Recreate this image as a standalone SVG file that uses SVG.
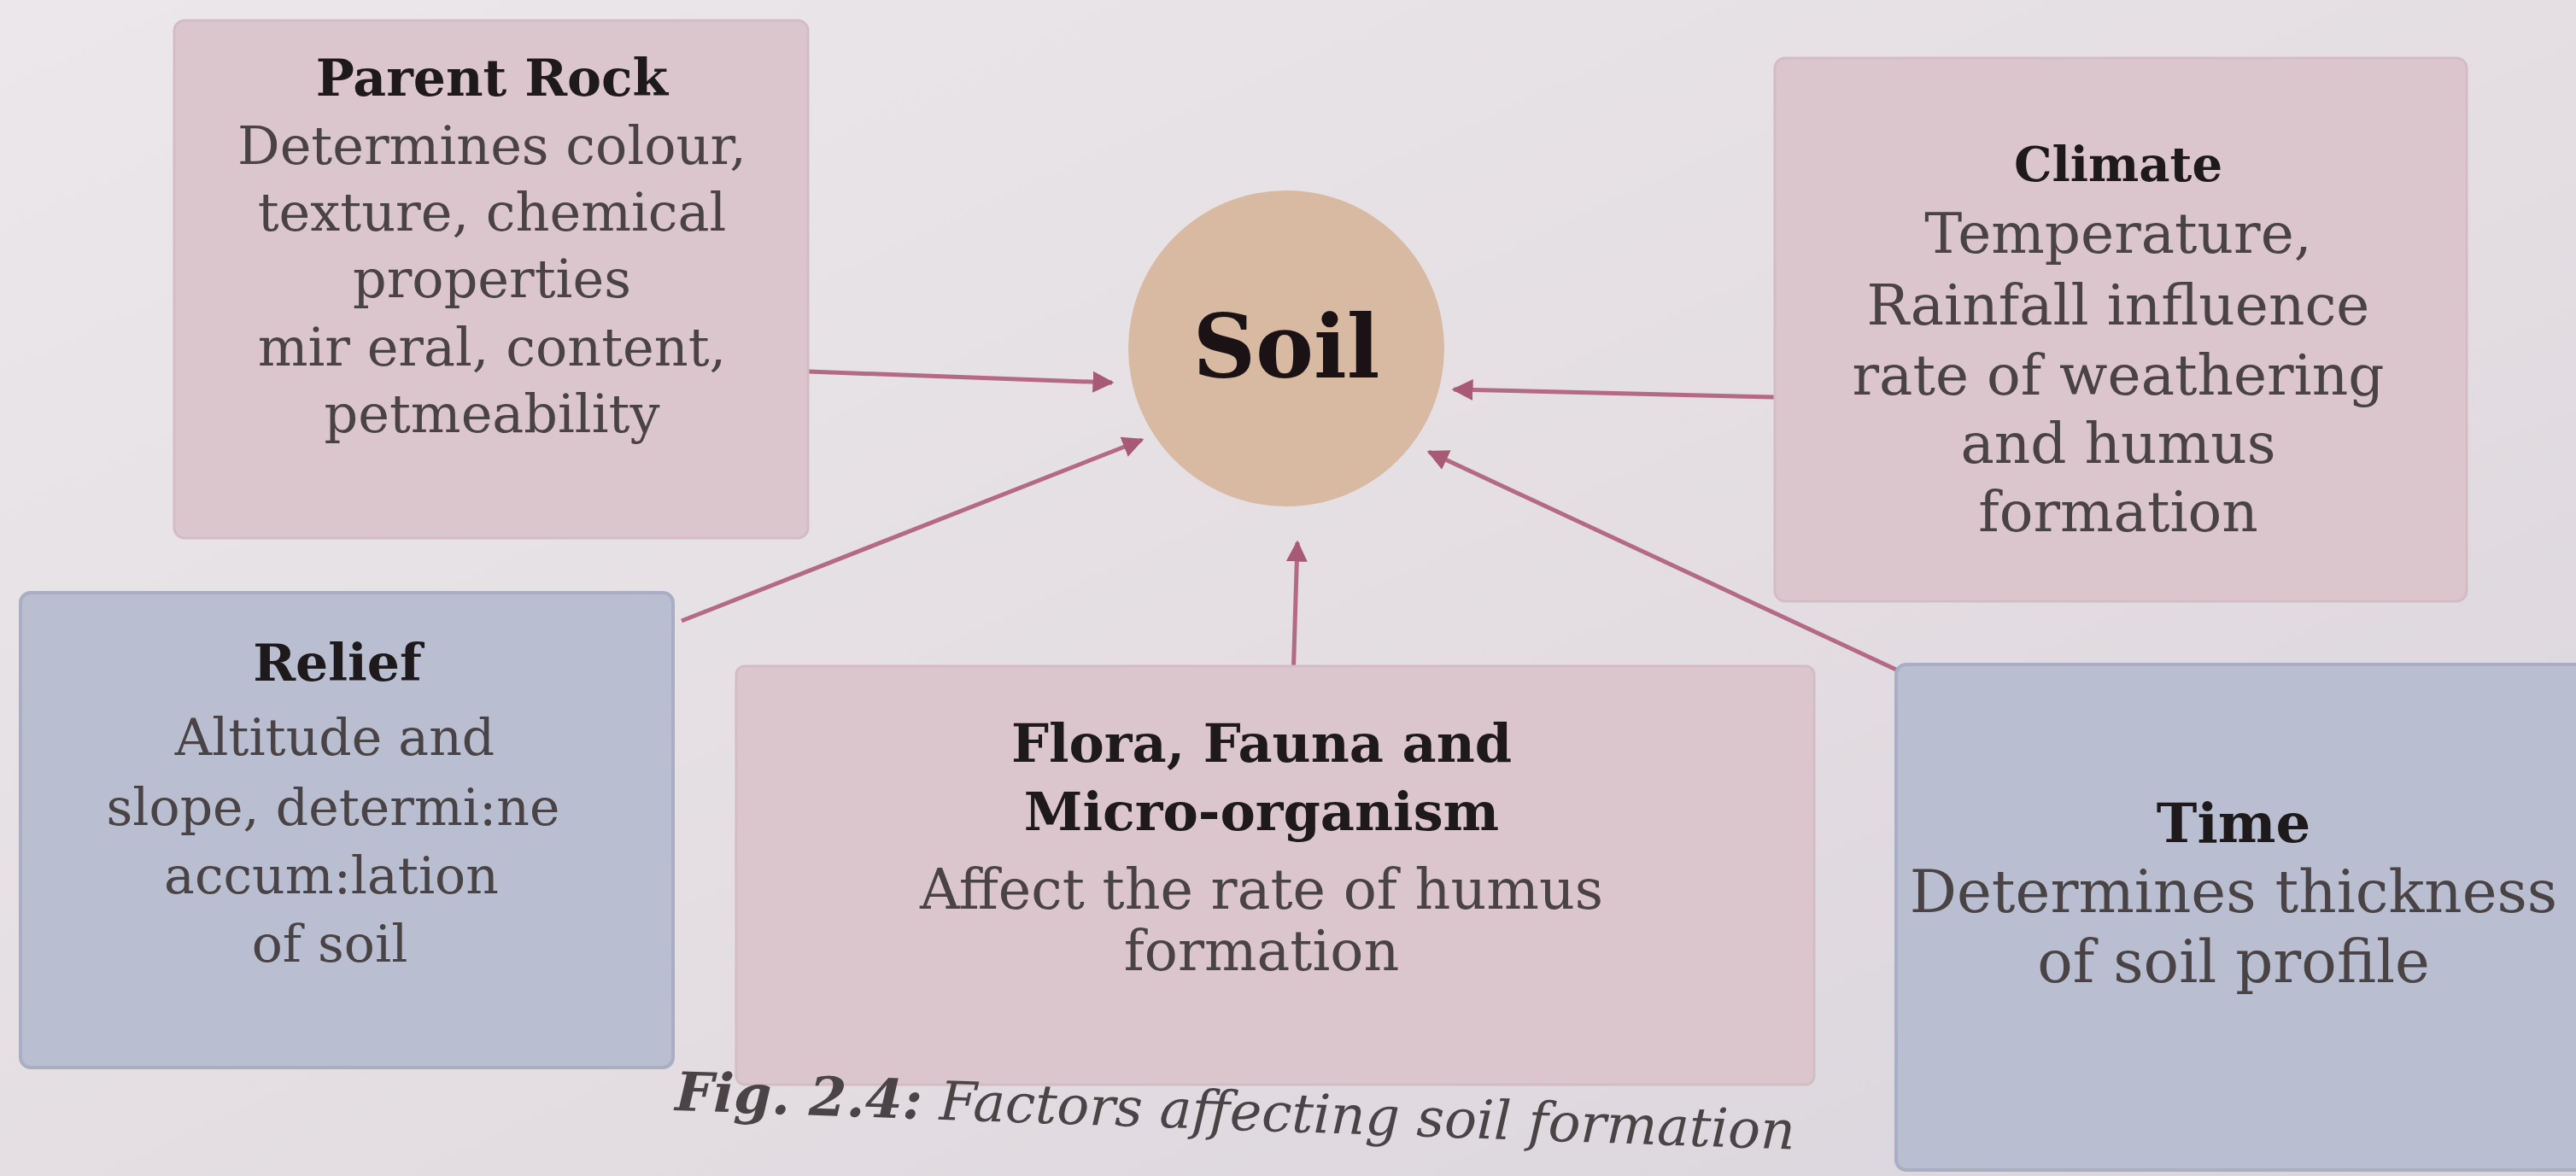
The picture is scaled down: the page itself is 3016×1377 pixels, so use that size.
<svg xmlns="http://www.w3.org/2000/svg" width="3016" height="1377" viewBox="0 0 3016 1377">
  <defs>
    <linearGradient id="bg" x1="0" y1="0" x2="1" y2="1">
      <stop offset="0" stop-color="#ebe7ea"/>
      <stop offset="0.6" stop-color="#e3dde2"/>
      <stop offset="1" stop-color="#d9d4dc"/>
    </linearGradient>
    <marker id="arr" viewBox="0 0 10 10" refX="9" refY="5" markerWidth="5" markerHeight="5" orient="auto" markerUnits="strokeWidth">
      <path d="M0,0 L10,5 L0,10 z" fill="#a85a74"/>
    </marker>
    <style>
      .pink { fill: #dcc6cd; stroke: #d4bcc4; stroke-width: 3; }
      .blue { fill: #b9bfd0; stroke: #a9aec2; stroke-width: 4; }
      .title { font-family: "DejaVu Serif", "Liberation Serif", serif; font-weight: bold; fill: #1e1a1c; text-anchor: middle; }
      .body { font-family: "DejaVu Serif", "Liberation Serif", serif; fill: #4a4346; text-anchor: middle; }
      .conn { stroke: #b46a82; stroke-width: 5; fill: none; marker-end: url(#arr); }
      .cap { font-family: "DejaVu Serif", "Liberation Serif", serif; font-style: italic; font-size: 63px; fill: #4a4446; }
    </style>
  </defs>

  <rect x="0" y="0" width="3016" height="1377" fill="url(#bg)"/>

  <g id="connectors">
    <line class="conn" x1="946" y1="435" x2="1302" y2="448"/>
    <line class="conn" x1="2077" y1="465" x2="1702" y2="456"/>
    <line class="conn" x1="798" y1="727" x2="1337" y2="515"/>
    <line class="conn" x1="1514" y1="798" x2="1519" y2="635"/>
    <line class="conn" x1="2222" y1="785" x2="1673" y2="529"/>
  </g>

  <g id="soil">
    <circle cx="1506" cy="408" r="185" fill="#d8b9a2"/>
    <text x="1506" y="442" font-family="DejaVu Serif, Liberation Serif, serif" font-weight="bold" font-size="102" fill="#1a1214" text-anchor="middle">Soil</text>
  </g>

  <g id="parent-rock">
    <rect class="pink" x="204" y="24" width="742" height="606" rx="12"/>
    <text class="title" x="576" y="112" font-size="60">Parent Rock</text>
    <text class="body" x="576" y="192" font-size="62">Determines colour,</text>
    <text class="body" x="576" y="270" font-size="62">texture, chemical</text>
    <text class="body" x="576" y="348" font-size="62">properties</text>
    <text class="body" x="576" y="428" font-size="62">mir eral, content,</text>
    <text class="body" x="576" y="506" font-size="62">petmeability</text>
  </g>

  <g id="climate">
    <rect class="pink" x="2078" y="68" width="810" height="636" rx="12"/>
    <text class="title" x="2480" y="212" font-size="56">Climate</text>
    <text class="body" x="2480" y="296" font-size="66">Temperature,</text>
    <text class="body" x="2480" y="380" font-size="66">Rainfall influence</text>
    <text class="body" x="2480" y="462" font-size="66">rate of weathering</text>
    <text class="body" x="2480" y="542" font-size="66">and humus</text>
    <text class="body" x="2480" y="622" font-size="66">formation</text>
  </g>

  <g id="relief">
    <rect class="blue" x="24" y="694" width="764" height="556" rx="12"/>
    <text class="title" x="395" y="797" font-size="60">Relief</text>
    <text class="body" x="392" y="884" font-size="60">Altitude and</text>
    <text class="body" x="390" y="966" font-size="60">slope, determi:ne</text>
    <text class="body" x="388" y="1046" font-size="60">accum:lation</text>
    <text class="body" x="386" y="1126" font-size="60">of soil</text>
  </g>

  <g id="flora">
    <rect class="pink" x="862" y="780" width="1262" height="490" rx="10"/>
    <text class="title" x="1477" y="892" font-size="62">Flora, Fauna and</text>
    <text class="title" x="1477" y="972" font-size="62">Micro-organism</text>
    <text class="body" x="1477" y="1064" font-size="65">Affect the rate of humus</text>
    <text class="body" x="1477" y="1136" font-size="65">formation</text>
  </g>

  <g id="time">
    <rect class="blue" x="2220" y="778" width="820" height="592" rx="12"/>
    <text class="title" x="2615" y="986" font-size="64">Time</text>
    <text class="body" x="2615" y="1068" font-size="69">Determines thickness</text>
    <text class="body" x="2615" y="1150" font-size="69">of soil profile</text>
  </g>

  <g id="caption" transform="rotate(2 790 1300)">
    <text class="cap" x="790" y="1300"><tspan font-weight="bold">Fig. 2.4:</tspan> Factors affecting soil formation</text>
  </g>
</svg>
